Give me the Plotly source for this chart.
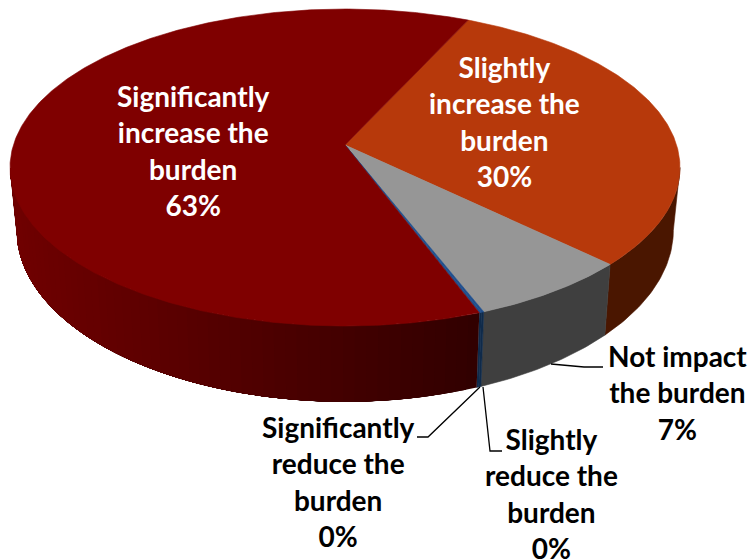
import numpy as np
import plotly.graph_objects as go

# Data (clockwise from the slice boundary at the back of the pie)
categories = ["Slightly increase the burden", "Not impact the burden",
              "Slightly reduce the burden", "Significantly reduce the burden",
              "Significantly increase the burden"]
values = [30.3, 6.9, 0.1, 0.1, 62.6]
label_lines = [["Slightly", "increase the", "burden"],
               ["Not impact", "the burden"],
               ["Slightly", "reduce the", "burden"],
               ["Significantly", "reduce the", "burden"],
               ["Significantly", "increase the", "burden"]]
top_colors = ["#b7390b", "#969696", "#1f4e8c", "#1f4e8c", "#7f0000"]
side_colors = ["#4a1600", "#3f3f3f", "#0f2a4a", "#0f2a4a", None]
text_colors = ["white", "black", "black", "black", "white"]
label_pos = [(504, 121), (677, 392), (551, 493), (338, 481), (193, 150)]
leaders = [None,
           ([551, 584, 603], [364, 367, 367]),
           ([483, 490, 502], [387, 451, 451]),
           ([480, 428, 417], [387, 437, 437]),
           None]

START_DEG = -65.2
CX, CY, RX, KY, P = 345.0, 145.0, 331.6, 155.3, 0.142
BCY, BRX, BKY = 206.0, 325.0, 168.0
VIS_A, VIS_B = np.degrees(np.arcsin(P)), 180 - np.degrees(np.arcsin(P))


def top_xy(deg):
    t = np.radians(deg)
    d = 1 - P * np.sin(t)
    return CX + RX * np.cos(t) / d, CY + KY * np.sin(t) / d


def bot_xy(deg):
    t = np.radians(deg)
    d = 1 - P * np.sin(t)
    return CX + BRX * np.cos(t) / d, BCY + BKY * np.sin(t) / d


def red_shade(x):
    f = np.clip((x - 15) / (480 - 15), 0, 1)
    return f"rgb({int(round(112 - 64 * f))},0,0)"


fig = go.Figure()


def poly(xs, ys, color, lw=0.6):
    fig.add_trace(go.Scatter(x=list(xs), y=list(ys), mode="lines", fill="toself",
                             fillcolor=color, line=dict(color=color, width=lw),
                             hoverinfo="skip", showlegend=False))


def wall(lo, hi, color, lw=0.6):
    ts = np.linspace(lo, hi, 40)
    xt, yt = top_xy(ts)
    xb, yb = bot_xy(ts)
    poly(np.r_[xt, xb[::-1], xt[0]], np.r_[yt, yb[::-1], yt[0]], color, lw)


edges = START_DEG + 360 * np.concatenate([[0], np.cumsum(values)]) / sum(values)

# Side wall
for i in range(len(values)):
    lo, hi = max(edges[i], VIS_A), min(edges[i + 1], VIS_B)
    if hi <= lo:
        continue
    if side_colors[i] is None:
        steps = np.linspace(lo, hi, 60)
        for a in steps[:-1]:
            xm, _ = bot_xy(a + (hi - lo) / 118)
            wall(a, hi, red_shade(xm), 0)
    else:
        wall(lo, hi, side_colors[i])

# Top face
for i in range(len(values)):
    ts = np.linspace(edges[i], edges[i + 1], max(3, int((edges[i + 1] - edges[i]) * 2)))
    xt, yt = top_xy(ts)
    poly(np.r_[CX, xt, CX], np.r_[CY, yt, CY], top_colors[i])

# Leader lines
for ld in leaders:
    if ld:
        fig.add_trace(go.Scatter(x=ld[0], y=ld[1], mode="lines",
                                 line=dict(color="black", width=1.3),
                                 hoverinfo="skip", showlegend=False))

# Labels
for v, lines, pos, col in zip(values, label_lines, label_pos, text_colors):
    fig.add_annotation(x=pos[0], y=pos[1], xref="x", yref="y", showarrow=False,
                       text="<br>".join(lines + [f"{v:.0f}%"]), align="center",
                       font=dict(family="Lato", size=28, color=col,
                                 weight="bold"))

fig.update_layout(
    width=748, height=560, margin=dict(l=0, r=0, t=0, b=0),
    paper_bgcolor="white", plot_bgcolor="white", showlegend=False,
    xaxis=dict(range=[0, 748], visible=False, fixedrange=True),
    yaxis=dict(range=[560, 0], visible=False, fixedrange=True),
)
fig.write_html("out.html", config={"displayModeBar": False},
               post_script="document.body.style.margin='0';document.documentElement.style.overflow='hidden';")
